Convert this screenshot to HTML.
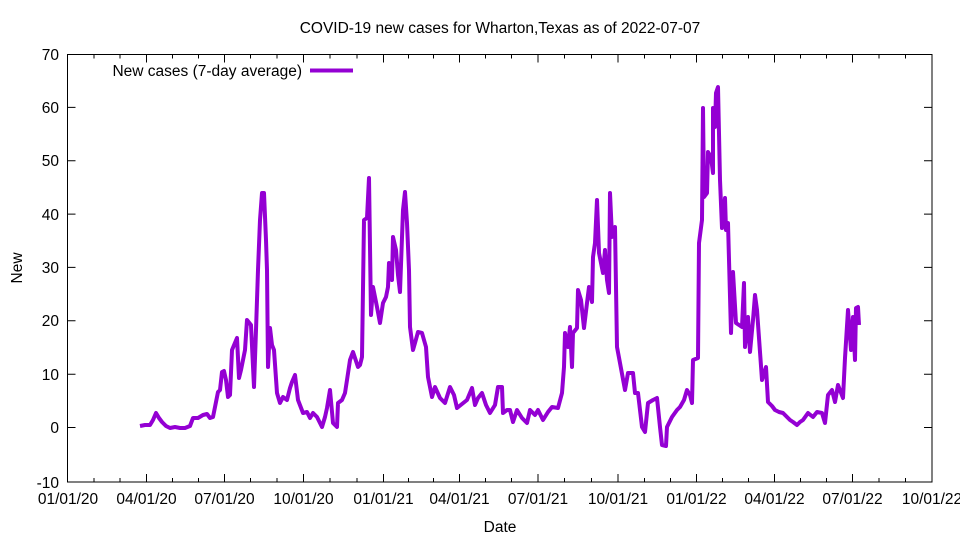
<!DOCTYPE html>
<html><head><meta charset="utf-8"><style>
body{margin:0;background:#fff}
svg{display:block;font-family:"Liberation Sans",sans-serif}
</style></head><body>
<svg width="960" height="540" viewBox="0 0 960 540">
<rect width="960" height="540" fill="#fff"/>
<text x="500" y="33" font-size="15.5" text-anchor="middle">COVID-19 new cases for Wharton,Texas as of 2022-07-07</text>
<g stroke="#000" stroke-width="1" fill="none">
<rect x="67.5" y="54.5" width="864.5" height="427.5"/>
<path d="M67.5 427.5h8M932 427.5h-8M67.5 374.2h8M932 374.2h-8M67.5 320.8h8M932 320.8h-8M67.5 267.4h8M932 267.4h-8M67.5 214.1h8M932 214.1h-8M67.5 160.8h8M932 160.8h-8M67.5 107.4h8M932 107.4h-8"/>
<path d="M146.5 482v-8M224.5 482v-8M303.5 482v-8M383.5 482v-8M459.5 482v-8M538 482v-8M618 482v-8M696.5 482v-8M774.5 482v-8M852.5 482v-8
M146.5 54.5v8M224.5 54.5v8M303.5 54.5v8M383.5 54.5v8M459.5 54.5v8M538 54.5v8M618 54.5v8M696.5 54.5v8M774.5 54.5v8M852.5 54.5v8
M94 482v-4M120 482v-4M172.5 482v-4M198.5 482v-4M250.5 482v-4M277 482v-4M330 482v-4M357 482v-4M408.5 482v-4M433.5 482v-4M485.5 482v-4M511.5 482v-4M564.5 482v-4M591.5 482v-4M644.5 482v-4M670.5 482v-4M722.5 482v-4M748.5 482v-4M800.5 482v-4M826.5 482v-4M879 482v-4M905.5 482v-4
M94 54.5v4M120 54.5v4M172.5 54.5v4M198.5 54.5v4M250.5 54.5v4M277 54.5v4M330 54.5v4M357 54.5v4M408.5 54.5v4M433.5 54.5v4M485.5 54.5v4M511.5 54.5v4M564.5 54.5v4M591.5 54.5v4M644.5 54.5v4M670.5 54.5v4M722.5 54.5v4M748.5 54.5v4M800.5 54.5v4M826.5 54.5v4M879 54.5v4M905.5 54.5v4"/>
</g>
<g font-size="15.5" text-anchor="end">
<text x="59" y="488">-10</text><text x="59" y="433">0</text><text x="59" y="380">10</text><text x="59" y="326">20</text><text x="59" y="273">30</text><text x="59" y="220">40</text><text x="59" y="166">50</text><text x="59" y="113">60</text><text x="59" y="60">70</text>
</g>
<g font-size="15.5" text-anchor="middle">
<text x="68" y="504">01/01/20</text><text x="146.5" y="504">04/01/20</text><text x="224.5" y="504">07/01/20</text><text x="303.5" y="504">10/01/20</text><text x="383.5" y="504">01/01/21</text><text x="459.5" y="504">04/01/21</text><text x="538" y="504">07/01/21</text><text x="618" y="504">10/01/21</text><text x="696.5" y="504">01/01/22</text><text x="774.5" y="504">04/01/22</text><text x="852.5" y="504">07/01/22</text><text x="932" y="504">10/01/22</text>
<text x="500" y="532">Date</text>
<text transform="translate(22,268) rotate(-90)">New</text>
</g>
<text x="302" y="76" font-size="15.5" text-anchor="end">New cases (7-day average)</text>
<line x1="310" y1="70.5" x2="353" y2="70.5" stroke="#9400D3" stroke-width="4"/>
<polyline fill="none" stroke="#9400D3" stroke-width="4" stroke-linejoin="round" points="
140,426 145,425 150,425 153,420 156,413 159,418 162,422 166,426 170,428 175,427 180,428 185,428 190,426 193,418 198,418 203,415 207,414 210,418 213,417 215,407 218,392 220,390 222,372 224,371 226,380 228,397 230,395 232,350 237,338 239,378 241,370 243,360 245,350 247,320 251,325 254,387 256,330 258,270 260,220 262,193 264,193 266,240 267,270 268,367 270,328 272,345 274,350 277,393 280,403 283,397 287,400 290,388 292,382 295,375 298,400 303,413 307,412 310,418 313,413 317,417 322,427 325,417 327,408 330,390
333,423 337,427 338,403 342,400 345,393 347,380 350,360 353,352 355,358 358,367 360,365 362,357 364,220 367,218 369,178 371,315 373,287 377,307 380,323 383,303 386,297 388,287 389,263 392,280 393,237 396,250 398,275 400,292 403,210 405,192 407,223 409,270 410,327 413,350 415,343 418,332 422,333 426,347 428,377 432,397 435,387 440,398 445,403 450,387 454,395 457,408 462,404 467,400 472,388 475,405 478,398 482,393 486,405 490,413 495,405 498,387 502,387 503,413 507,410 510,410 513,422 517,410 522,418 527,423 530,410 535,415 538,410 543,420 548,412 552,407 558,408 562,393 564,367 565,333 568,347 570,327 572,367 573,333 577,328 578,290 581,300 584,328 587,303 589,287 592,302 593,257 595,243 597,200 599,253 603,273 605,250 607,280 609,293 610,193 612,237 615,227 617,347 620,363 625,390 628,373 633,373 635,393 638,393 642,427 645,432 648,403 653,400 657,398 660,427 662,445 666,446 667,427 672,417 677,410 680,407 684,400 687,390 690,395 692,403 693,360 698,358 699,243 702,220 703,108 704,197 707,193 708,152 711,157 713,173 713,108 715,127 716,93 718,87 720,180 722,228 725,198 726,230 728,223 731,333 733,272 736,323 742,327 744,283 745,347 748,317 750,352 753,320 755,295 757,310 762,380 766,367 768,402 772,406 775,410 779,412 783,413 787,417 790,420 793,422 797,425 800,422 803,420 808,413 813,417 817,412 822,413 825,423 828,395 832,390 835,402 838,385 843,398 845,358 848,310 851,350 853,317 855,360 856,308 858,307 859,325"/>
</svg>
</body></html>
